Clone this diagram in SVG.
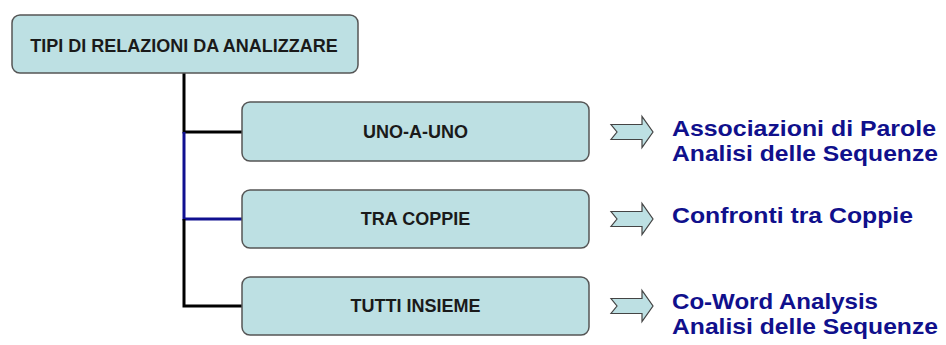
<svg xmlns="http://www.w3.org/2000/svg" width="946" height="345" viewBox="0 0 946 345">
<style>
.box{fill:#bde0e3;stroke:#555;stroke-width:1.5}
.lbl{font-family:"Liberation Sans",Arial,sans-serif;font-weight:bold;font-size:18px;fill:#1a1a1a;text-anchor:middle}
.res{font-family:"Liberation Sans",Arial,sans-serif;font-weight:bold;font-size:21.5px;fill:#10108c}
.arr{fill:#bde0e3;stroke:#444;stroke-width:1.2;stroke-linejoin:miter}
.k{stroke:#000;stroke-width:3;fill:none}
.b{stroke:#101090;stroke-width:3;fill:none}
</style>
<defs>
<polygon id="blk" class="arr" points="611,-7.5 642,-7.5 642,-15.5 653,0 642,15.5 642,7.5 611,7.5 617,0"/>
</defs>
<rect width="946" height="345" fill="#fff"/>
<g id="connectors">
<path class="k" d="M184,73 V132 H242"/>
<path class="b" d="M184,132 V219 H242"/>
<path class="k" d="M184,219 V306 H242"/>
</g>
<g id="root">
<rect class="box" x="12" y="15" width="346" height="58" rx="8"/>
<text class="lbl" x="184" y="52">TIPI DI RELAZIONI DA ANALIZZARE</text>
</g>
<g id="uno">
<rect class="box" x="242" y="102" width="347" height="59" rx="8"/>
<text class="lbl" x="415.5" y="138">UNO-A-UNO</text>
</g>
<g id="coppie">
<rect class="box" x="242" y="190" width="347" height="58" rx="8"/>
<text class="lbl" x="415.5" y="225">TRA COPPIE</text>
</g>
<g id="tutti">
<rect class="box" x="242" y="277" width="347" height="58" rx="8"/>
<text class="lbl" x="415.5" y="312">TUTTI INSIEME</text>
</g>
<g id="arrow1"><use href="#blk" transform="translate(0,132)"/></g>
<g id="arrow2"><use href="#blk" transform="translate(0,219)"/></g>
<g id="arrow3"><use href="#blk" transform="translate(0,306)"/></g>
<g id="res1">
<text class="res" x="672" y="136" textLength="264" lengthAdjust="spacingAndGlyphs">Associazioni di Parole</text>
<text class="res" x="672" y="161" textLength="266" lengthAdjust="spacingAndGlyphs">Analisi delle Sequenze</text>
</g>
<g id="res2">
<text class="res" x="672" y="223" textLength="241" lengthAdjust="spacingAndGlyphs">Confronti tra Coppie</text>
</g>
<g id="res3">
<text class="res" x="672" y="309" textLength="206" lengthAdjust="spacingAndGlyphs">Co-Word Analysis</text>
<text class="res" x="672" y="334" textLength="266" lengthAdjust="spacingAndGlyphs">Analisi delle Sequenze</text>
</g>
</svg>
